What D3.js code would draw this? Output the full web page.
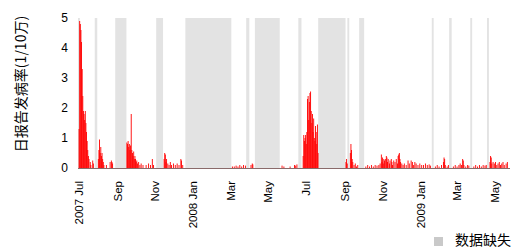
<!DOCTYPE html>
<html>
<head>
<meta charset="utf-8">
<title>daily rate</title>
<script src="https://d3js.org/d3.v7.min.js"></script>
<style>
body { margin: 0; background: #fff; font-family: "Liberation Sans", Arial, "Noto Sans CJK SC", sans-serif; }
svg { display: block; }
</style>
</head>
<body>
<svg id="chart" width="526" height="250"></svg>
<script>
var startDate = new Date(2007, 6, 1);
var caseDay = [
  0,1,2,3,4,5,6,7,8,9,10,11,12,13,14,15,16,18,19,22,23,
  31,32,33,34,35,36,37,38,39,40,44,50,52,53,54,
  77,78,79,80,81,82,83,84,85,86,87,88,89,90,91,92,93,94,96,98,100,103,108,112,115,118,120,
  137,138,139,140,141,143,145,147,149,152,155,158,161,164,165,167,
  247,250,253,256,259,262,265,268,277,279,280,
  327,330,340,347,349,351,
  361,362,363,364,365,366,367,368,369,370,371,372,373,374,375,376,377,378,379,380,381,382,383,384,385,
  430,431,432,437,438,439,440,441,443,445,447,449,
  462,465,468,471,474,477,480,483,485,487,488,489,490,491,492,494,495,496,497,498,500,501,503,504,505,507,509,511,513,514,515,516,517,518,520,522,524,527,530,532,535,537,539,541,543,546,549,552,555,558,561,564,566,
  574,577,580,584,587,588,589,590,593,595,
  603,606,609,612,614,616,618,619,620,623,626,628,
  636,639,642,645,648,651,654,656,
  662,663,664,665,667,669,671,673,675,677,679,681,683,685,688,690
];
var caseValue = [
  1.3,4.9,4.8,4.6,4.2,3.3,2.4,1.9,1.8,1.6,1.9,1.5,1.2,0.9,0.6,0.4,0.3,0.2,0.1,0.25,0.15,
  0.3,0.6,0.95,0.5,0.7,0.4,0.5,0.3,0.2,0.1,0.1,0.2,0.25,0.2,0.15,
  0.85,0.8,0.9,0.7,0.8,0.6,0.75,1.8,0.6,0.5,0.4,0.55,0.3,0.4,0.3,0.2,0.25,0.15,0.2,0.1,0.15,0.1,0.1,0.15,0.1,0.3,0.1,
  0.3,0.5,0.45,0.2,0.3,0.15,0.1,0.2,0.1,0.15,0.1,0.15,0.1,0.3,0.25,0.1,
  0.05,0.05,0.08,0.05,0.1,0.05,0.1,0.08,0.1,0.15,0.12,
  0.08,0.05,0.05,0.1,0.08,0.12,
  0.4,1.1,0.9,1.0,1.1,0.8,1.2,2.3,2.4,1.6,2.2,2.5,2.55,1.9,1.5,1.8,1.2,1.65,1.0,0.9,1.4,1.2,0.8,1.45,0.5,
  0.2,0.3,0.15,0.5,0.8,0.6,0.3,0.2,0.1,0.15,0.05,0.1,
  0.05,0.1,0.05,0.1,0.05,0.1,0.08,0.1,0.15,0.45,0.2,0.35,0.15,0.3,0.25,0.3,0.4,0.35,0.2,0.3,0.15,0.25,0.3,0.2,0.1,0.25,0.2,0.3,0.15,0.4,0.45,0.5,0.3,0.2,0.15,0.1,0.15,0.1,0.25,0.15,0.25,0.2,0.1,0.2,0.15,0.1,0.15,0.1,0.1,0.15,0.1,0.12,0.08,
  0.05,0.1,0.05,0.1,0.2,0.35,0.3,0.1,0.05,0.1,
  0.05,0.1,0.05,0.1,0.15,0.1,0.3,0.25,0.1,0.05,0.1,0.08,
  0.05,0.1,0.05,0.1,0.05,0.1,0.08,0.1,
  0.2,0.4,0.35,0.15,0.2,0.15,0.2,0.1,0.15,0.2,0.1,0.15,0.2,0.1,0.15,0.2
];
// grey periods (first day, last day), same day offsets
var gapStart = [-1, 26, 59, 125, 172, 270, 284, 354, 386, 433, 452, 569, 597, 631, 658];
var gapEnd   = [ 1, 29, 76, 135, 245, 274, 323, 358, 429, 435, 459, 571, 600, 633, 660];
var yTicks = [0, 1, 2, 3, 4, 5];
var yTitle = "日报告发病率(1/10万)";
var legendLabel = "数据缺失";

function dayDate(n) { return d3.timeDay.offset(startDate, n); }

var svg = d3.select("#chart");

var x = d3.scaleTime()
  .domain([dayDate(-1), dayDate(695)])
  .range([78, 510]);
var y = d3.scaleLinear()
  .domain([0, 5])
  .range([168, 18]);

// grey bands
svg.append("g").selectAll("rect")
  .data(gapStart)
  .join("rect")
  .attr("x", function (d) { return x(dayDate(d)); })
  .attr("width", function (d, i) { return x(dayDate(gapEnd[i] + 1)) - x(dayDate(d)); })
  .attr("y", y(5))
  .attr("height", y(0) - y(5) + 1)
  .attr("fill", "#e3e3e3");

// daily bars
var bars = caseDay.map(function (d, i) { return { day: d, v: caseValue[i] }; });
svg.append("g").selectAll("rect")
  .data(bars)
  .join("rect")
  .attr("x", function (d) { return x(dayDate(d.day)); })
  .attr("width", 0.9)
  .attr("y", function (d) { return y(d.v); })
  .attr("height", function (d) { return y(0) - y(d.v); })
  .attr("fill", "#ff0000");

// baseline
svg.append("line")
  .attr("x1", x.range()[0]).attr("x2", x.range()[1])
  .attr("y1", y(0) + 0.5).attr("y2", y(0) + 0.5)
  .style("stroke", "#8a6a6a")
  .style("stroke-width", 1);

// y axis
var yAxis = d3.axisLeft(y).tickValues(yTicks).tickSize(0).tickPadding(10).tickFormat(d3.format("d"));
var gy = svg.append("g").attr("transform", "translate(78,0)").call(yAxis);
gy.select(".domain").remove();
gy.selectAll("text").attr("font-size", 12).attr("fill", "#000")
  .attr("font-family", "'Liberation Sans', Arial, sans-serif");

// x axis, every two months
var monthTicks = d3.timeMonth.range(new Date(2007, 6, 1), new Date(2009, 5, 1), 2);
var xAxis = d3.axisBottom(x).tickValues(monthTicks).tickSize(0)
  .tickFormat(function (d, i) {
    if (i === 0 || d.getMonth() === 0) return d3.timeFormat("%Y %b")(d);
    return d3.timeFormat("%b")(d);
  });
var gx = svg.append("g").attr("transform", "translate(0,169)").call(xAxis);
gx.select(".domain").remove();
gx.selectAll("text")
  .attr("font-size", 11.5).attr("fill", "#000")
  .attr("font-family", "'Liberation Sans', Arial, sans-serif")
  .attr("text-anchor", "end")
  .attr("transform", "rotate(-90)")
  .attr("x", -12)
  .attr("y", 0)
  .attr("dy", "0.35em");

// y title
svg.append("text")
  .text(yTitle)
  .attr("transform", "translate(26,84) rotate(-90)")
  .attr("text-anchor", "middle")
  .attr("font-size", 14)
  .attr("font-family", "'Noto Sans CJK SC', sans-serif")
  .attr("fill", "#000");

// legend
svg.append("rect")
  .attr("x", 434).attr("y", 237)
  .attr("width", 9).attr("height", 9)
  .attr("fill", "#c9c9c9");
svg.append("text")
  .text(legendLabel)
  .attr("x", 455).attr("y", 245)
  .attr("font-size", 14)
  .attr("font-family", "'Noto Sans CJK SC', sans-serif")
  .attr("fill", "#000");
</script>
</body>
</html>
